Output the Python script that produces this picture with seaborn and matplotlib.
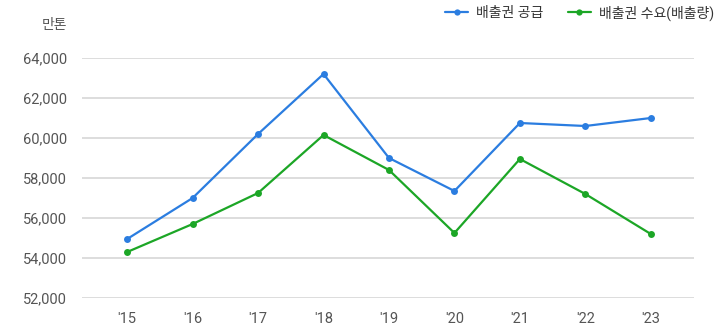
import matplotlib
matplotlib.use("Agg")
import matplotlib.pyplot as plt
import seaborn as sns
import pandas as pd
from matplotlib.lines import Line2D

years = ["'15", "'16", "'17", "'18", "'19", "'20", "'21", "'22", "'23"]
supply = [54950, 57000, 60200, 63200, 59000, 57350, 60750, 60600, 61000]
demand = [54300, 55700, 57250, 60150, 58400, 55250, 58950, 57200, 55200]
series_names = ["배출권 공급", "배출권 수요(배출량)"]
yticks = [52000, 54000, 56000, 58000, 60000, 62000, 64000]
unit_label = "만톤"

sns.set_theme(style="white")
plt.rcParams['font.family'] = ['Roboto', 'Noto Sans CJK KR', 'DejaVu Sans']

df = pd.DataFrame({
    "year": years * 2,
    "x": list(range(len(years))) * 2,
    "value": supply + demand,
    "series": [series_names[0]] * len(years) + [series_names[1]] * len(years),
})

fig = plt.figure(figsize=(7.16, 3.27), dpi=100)
ax = fig.add_axes([82/716, 1-298/327, (694-82)/716, (298-58)/327])

palette = {series_names[0]: "#2b7de0", series_names[1]: "#1ca626"}
sns.lineplot(data=df, x="x", y="value", hue="series", palette=palette,
             marker="o", markersize=5, markeredgewidth=0, linewidth=1.6,
             ax=ax, legend=False, clip_on=False)

ax.set_ylim(52000, 64000)
ax.set_xlim(-0.69, 8.66)
ax.set_yticks(yticks)
ax.set_yticklabels([f"{v:,}" for v in yticks])
ax.set_xticks(range(len(years)))
ax.set_xticklabels(years)
ax.tick_params(axis="both", length=0, labelsize=10.5, colors="#555555")
ax.tick_params(axis="y", pad=11)
ax.tick_params(axis="x", pad=10)
ax.grid(axis="y", color="#dddddd", linewidth=1.4)
ax.grid(axis="x", visible=False)
ax.set_axisbelow(True)
for s in ax.spines.values():
    s.set_visible(False)
ax.set_xlabel("")
ax.set_ylabel("")

fig.text(67/716, 1-25/327, unit_label, ha="right", va="center", fontsize=10, color="#555555")

handles = [Line2D([], [], color=palette[n], marker="o", markersize=4.5, markeredgewidth=0, linewidth=1.6) for n in series_names]
fig.legend(handles, series_names, loc="upper right", bbox_to_anchor=(1.015, 1.022), ncol=2,
           frameon=False, fontsize=10, handlelength=1.65, handletextpad=0.6, columnspacing=1.75,
           labelcolor="#333333")

fig.savefig("out.png", dpi=100)
